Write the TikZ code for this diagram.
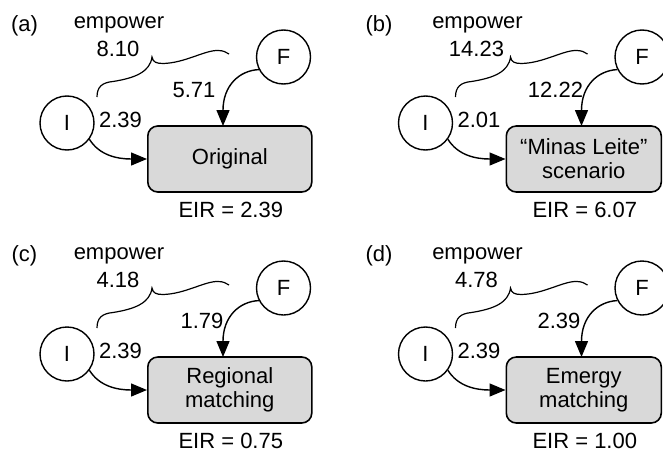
\documentclass[tikz,border=0pt]{standalone}
\usepackage{fontspec}
\setmainfont{Liberation Sans}
\usetikzlibrary{arrows.meta}

\definecolor{boxgray}{RGB}{217,217,217}

\tikzset{
  every node/.style={font=\fontsize{11}{12}\selectfont},
  src/.style={draw, circle, line width=0.7pt, minimum size=27pt, inner sep=0pt},
  procbox/.style={draw, line width=0.8pt, fill=boxgray, rounded corners=5pt,
    minimum height=33pt, inner sep=2pt, align=center},
  flow/.style={line width=0.7pt, -{Triangle[length=8pt,width=6.5pt]}},
  bracepath/.style={line width=0.6pt},
  txt/.style={anchor=base, inner sep=0pt},
}

% One emergy diagram: sources I and F feeding a process box
% #1 tag, #2 shift, #3 empower, #4 F flow, #5 x of F flow label,
% #6 I flow, #7 box text, #8 box width, #9 EIR value
\newcommand\emergypanel[9]{%
  \begin{scope}[shift={#2}]
    \node[src] (#1I) at (67,123) {I};
    \node[src] (#1F) at (283.5,57) {F};
    \node[procbox, minimum width=#8, anchor=west] (#1box) at (147,159) {#7};
    \coordinate (#1ftip) at (223,126);
    \draw[flow] (#1I.-36) .. controls +(10,16) and +(-30,0) .. (#1box.west);
    \draw[flow] (#1F.207) .. controls +(-20,1) and +(0,-40) .. (#1ftip);
    % brace grouping both inflows
    \draw[bracepath] (97,97) .. controls (97,87) and (102,82.5) .. (113,81.5)
      .. controls (135,78) and (150,72) .. (152,57)
      .. controls (153,62) and (156,63.5) .. (163,63.5)
      .. controls (185,63) and (205,50) .. (218,50.5)
      .. controls (223,50.5) and (226,52) .. (229,54);
    \node[txt] (#1emp) at (119,28) {empower};
    \node[txt] (#1empv) at (118,56.5) {#3};
    \node[txt] (#1fv) at (#5,97.5) {#4};
    \node[txt] (#1iv) at (120.5,127) {#6};
    \node[txt] (#1eir) at ([xshift=0.5pt,yshift=-12.5pt]#1box.south) {EIR = #9};
  \end{scope}}

\begin{document}
\begin{tikzpicture}[x=0.5pt, y=-0.5pt]
  \useasboundingbox (0,0) rectangle (663,455);

  \emergypanel{a}{(0,0)}{8.10}{5.71}{194}{2.39}{Original}{82pt}{2.39}
  \emergypanel{b}{(358.5,0)}{14.23}{12.22}{197}{2.01}{“Minas Leite”\\scenario}{77.5pt}{6.07}
  \emergypanel{c}{(0,231)}{4.18}{1.79}{202}{2.39}{Regional\\matching}{82pt}{0.75}
  \emergypanel{d}{(358.5,231)}{4.78}{2.39}{200.5}{2.39}{Emergy\\matching}{77.5pt}{1.00}

  \node[txt] (taga) at (24.5,32) {(a)};
  \node[txt] (tagb) at (379,32) {(b)};
  \node[txt] (tagc) at (24.5,261) {(c)};
  \node[txt] (tagd) at (379,261) {(d)};
\end{tikzpicture}
\end{document}
